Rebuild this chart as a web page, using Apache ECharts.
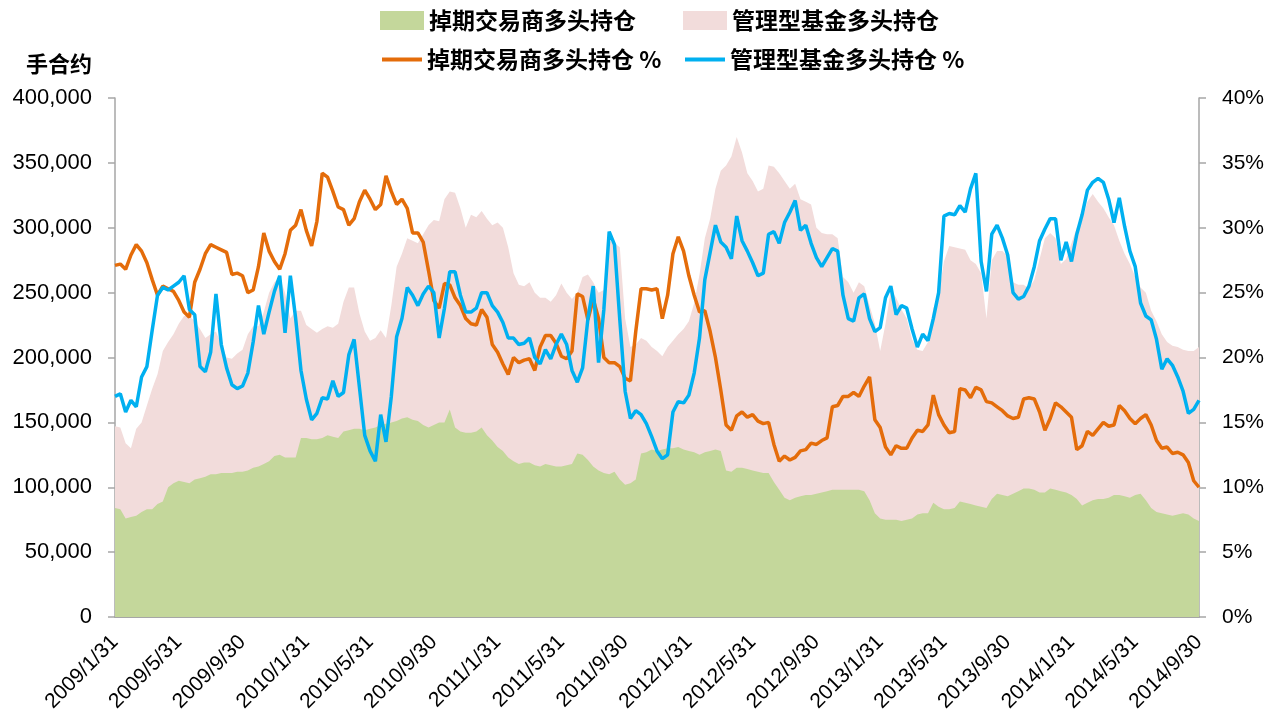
<!DOCTYPE html>
<html>
<head>
<meta charset="utf-8">
<title>掉期交易商与管理型基金多头持仓</title>
<script src="https://cdn.jsdelivr.net/npm/echarts@6/dist/echarts.min.js"></script>
<style>
  html, body { margin: 0; padding: 0; background: #fff; }
  #chart { width: 1278px; height: 719px; }
</style>
</head>
<body>
<div id="chart"></div>
<script>
// x 轴刻度标签，每 4 个月一个；数据约每月 3 个点（索引 0..204）
const tickLabels = ['2009/1/31', '2009/5/31', '2009/9/30', '2010/1/31', '2010/5/31', '2010/9/30',
  '2011/1/31', '2011/5/31', '2011/9/30', '2012/1/31', '2012/5/31', '2012/9/30',
  '2013/1/31', '2013/5/31', '2013/9/30', '2014/1/31', '2014/5/31', '2014/9/30']
const pointsPerTick = 12

// 掉期交易商多头持仓（手合约）
const swapLong = [
  84000, 83000, 76000, 77000, 78000, 81000, 83000, 83000, 87000, 89000, 100000, 103000, 105000, 104000, 103000, 106000, 107000,
  108000, 110000, 110000, 111000, 111000, 111000, 112000, 112000, 113000, 115000, 116000, 118000, 120000, 124000, 125000, 123000, 123000,
  123000, 138000, 138000, 137000, 137000, 138000, 140000, 139000, 138000, 143000, 144000, 145000, 145000, 144000, 145000, 146000, 148000,
  149000, 150000, 151000, 153000, 154000, 152000, 151000, 148000, 146000, 148000, 150000, 150000, 160000, 146000, 143000, 142000, 142000,
  143000, 146000, 140000, 136000, 131000, 128000, 123000, 120000, 118000, 119000, 119000, 117000, 116000, 118000, 117000, 116000, 116000,
  117000, 118000, 126000, 125000, 121000, 116000, 113000, 111000, 110000, 112000, 106000, 102000, 103000, 106000, 126000, 127000, 129000,
  128000, 129000, 130000, 130000, 131000, 129000, 128000, 127000, 125000, 127000, 128000, 129000, 128000, 113000, 112000, 115000, 115000,
  114000, 113000, 112000, 111000, 111000, 104000, 98000, 92000, 90000, 92000, 93000, 94000, 94000, 95000, 96000, 97000, 98000,
  98000, 98000, 98000, 98000, 98000, 97000, 90000, 80000, 76000, 75000, 75000, 75000, 74000, 75000, 76000, 79000, 80000,
  80000, 88000, 85000, 83000, 83000, 84000, 89000, 88000, 87000, 86000, 85000, 84000, 91000, 95000, 94000, 93000, 95000,
  97000, 99000, 99000, 98000, 96000, 96000, 99000, 98000, 97000, 96000, 94000, 91000, 86000, 88000, 90000, 91000, 91000, 92000,
  94000, 94000, 93000, 92000, 94000, 95000, 90000, 84000, 81000, 80000, 79000, 78000, 79000, 80000, 79000, 76000, 74000
]

// 管理型基金多头持仓（图中粉色区域顶部）
const mmLong = [
  147000, 146000, 134000, 130000, 145000, 150000, 163000, 176000, 187000, 205000, 212000, 218000, 226000, 232000, 232000, 228000, 222000,
  215000, 218000, 220000, 210000, 200000, 199000, 203000, 206000, 218000, 224000, 224000, 235000, 250000, 258000, 262000, 250000, 230000,
  236000, 236000, 225000, 222000, 219000, 222000, 224000, 223000, 226000, 243000, 254000, 254000, 234000, 220000, 213000, 215000, 221000,
  215000, 240000, 270000, 280000, 292000, 290000, 288000, 295000, 302000, 306000, 305000, 322000, 328000, 327000, 315000, 300000, 310000,
  308000, 313000, 307000, 302000, 304000, 300000, 285000, 265000, 256000, 255000, 258000, 250000, 246000, 246000, 243000, 248000, 257000,
  250000, 245000, 250000, 262000, 264000, 258000, 250000, 252000, 290000, 288000, 285000, 230000, 208000, 210000, 215000, 213000, 208000,
  205000, 201000, 208000, 213000, 218000, 222000, 228000, 242000, 264000, 292000, 307000, 330000, 344000, 348000, 355000, 370000, 358000,
  342000, 336000, 328000, 330000, 348000, 347000, 342000, 336000, 330000, 334000, 322000, 320000, 318000, 300000, 296000, 295000, 295000,
  292000, 262000, 258000, 250000, 258000, 255000, 240000, 226000, 205000, 226000, 252000, 246000, 237000, 230000, 214000, 206000, 205000,
  212000, 238000, 248000, 274000, 286000, 285000, 284000, 283000, 275000, 272000, 265000, 230000, 275000, 282000, 282000, 278000, 258000,
  256000, 256000, 253000, 260000, 276000, 292000, 296000, 292000, 272000, 276000, 288000, 300000, 306000, 320000, 326000, 320000, 315000, 308000,
  302000, 290000, 280000, 272000, 262000, 254000, 250000, 236000, 228000, 218000, 212000, 209000, 208000, 206000, 205000, 205000, 208000
]

// 掉期交易商多头持仓占比 %
const swapPct = [
  27.1, 27.2, 26.8, 27.9, 28.7, 28.2, 27.3, 26.0, 24.8, 25.5, 25.3, 25.1, 24.4, 23.5, 23.1, 25.8, 26.8,
  28.0, 28.7, 28.5, 28.3, 28.1, 26.4, 26.5, 26.3, 25.0, 25.2, 27.0, 29.6, 28.2, 27.4, 26.8, 28.0, 29.8,
  30.2, 31.4, 29.8, 28.6, 30.5, 34.2, 33.9, 32.8, 31.6, 31.4, 30.2, 30.7, 32.0, 32.9, 32.2, 31.4, 31.8,
  34.0, 32.8, 31.8, 32.2, 31.5, 29.6, 29.6, 28.9, 26.7, 24.4, 23.8, 25.7, 25.6, 24.6, 24.0, 23.0, 22.6,
  22.5, 23.7, 23.1, 21.0, 20.4, 19.5, 18.7, 20.0, 19.6, 19.8, 19.9, 19.0, 20.8, 21.7, 21.7, 21.1, 20.1,
  19.9, 20.5, 24.9, 24.7, 22.9, 24.5, 23.0, 20.0, 19.6, 19.6, 19.3, 18.4, 18.2, 22.0, 25.3, 25.3, 25.2,
  25.3, 23.0, 24.8, 28.0, 29.3, 28.2, 26.3, 24.8, 23.5, 23.6, 22.0, 20.0, 17.5, 14.8, 14.4, 15.5, 15.8,
  15.4, 15.6, 15.1, 14.9, 15.0, 13.3, 12.0, 12.4, 12.1, 12.3, 12.8, 12.9, 13.4, 13.3, 13.6, 13.8, 16.2,
  16.3, 17.0, 17.0, 17.3, 17.0, 17.8, 18.5, 15.2, 14.6, 13.1, 12.5, 13.2, 13.0, 13.0, 13.8, 14.4, 14.3,
  14.8, 17.1, 15.6, 14.8, 14.2, 14.3, 17.6, 17.5, 16.9, 17.7, 17.5, 16.6, 16.5, 16.2, 15.9, 15.5, 15.3,
  15.4, 16.8, 16.9, 16.8, 15.8, 14.4, 15.3, 16.5, 16.2, 15.8, 15.4, 12.9, 13.2, 14.3, 14.0, 14.5, 15.0, 14.7,
  14.8, 16.3, 15.9, 15.3, 14.9, 15.3, 15.6, 14.8, 13.6, 13.0, 13.1, 12.6, 12.7, 12.5, 11.9, 10.5, 10.0
]

// 管理型基金多头持仓占比 %
const mmPct = [
  17.0, 17.2, 15.8, 16.7, 16.2, 18.5, 19.3, 22.1, 24.8, 25.4, 25.2, 25.5, 25.8, 26.3, 23.7, 23.3, 19.3,
  18.9, 20.4, 24.9, 21.0, 19.2, 17.9, 17.6, 17.8, 18.8, 21.2, 24.0, 21.8, 23.5, 25.1, 26.3, 21.9, 26.3,
  23.0, 19.0, 16.8, 15.2, 15.7, 16.9, 16.8, 18.2, 17.0, 17.3, 20.2, 21.4, 17.7, 14.0, 12.8, 12.0, 15.6,
  13.5, 17.0, 21.6, 23.0, 25.4, 24.8, 24.0, 24.9, 25.5, 25.0, 21.5, 23.8, 26.6, 26.6, 24.8, 23.5, 23.5,
  23.8, 25.0, 25.0, 24.0, 23.5, 22.7, 21.5, 21.5, 21.0, 21.1, 21.5, 20.0, 19.5, 20.6, 19.9, 21.0, 21.8,
  21.0, 19.0, 18.1, 19.2, 23.0, 25.5, 19.6, 23.7, 29.7, 28.7, 22.9, 17.4, 15.3, 15.9, 15.6, 14.9, 13.9,
  12.8, 12.2, 12.5, 15.8, 16.6, 16.5, 17.1, 18.8, 21.5, 26.0, 28.1, 30.2, 28.9, 28.5, 27.6, 30.9, 29.0,
  28.2, 27.3, 26.3, 26.5, 29.5, 29.7, 28.8, 30.4, 31.2, 32.1, 29.8, 30.2, 28.8, 27.7, 27.0, 27.7, 28.4,
  28.2, 24.8, 23.0, 22.8, 24.6, 24.9, 23.0, 22.0, 22.3, 24.6, 25.5, 23.3, 24.0, 23.8, 22.2, 20.8, 21.8,
  21.3, 23.0, 25.0, 30.9, 31.1, 31.0, 31.7, 31.2, 33.0, 34.2, 27.4, 25.1, 29.5, 30.2, 29.2, 27.9, 25.0,
  24.5, 24.7, 25.5, 27.0, 29.0, 29.9, 30.7, 30.7, 27.5, 28.9, 27.4, 29.5, 31.0, 32.9, 33.5, 33.8, 33.5, 32.2,
  30.4, 32.3, 30.1, 28.2, 27.0, 24.2, 23.2, 22.9, 21.4, 19.1, 19.9, 19.4, 18.5, 17.4, 15.7, 16.0, 16.7
]

const SWAP = '掉期交易商多头持仓'
const MM = '管理型基金多头持仓'
const SWAP_PCT = '掉期交易商多头持仓 %'
const MM_PCT = '管理型基金多头持仓 %'

const GREEN = '#c4d79b'
const PINK = '#f2dcdb'
const ORANGE = '#e46c0a'
const BLUE = '#00b0f0'
const AXIS_GRAY = '#a6a6a6'

const cjkFont = '"Noto Sans CJK SC", sans-serif'
const numFont = '"Liberation Sans", Arial, sans-serif'

const toPairs = arr => arr.map((v, i) => [i, v])
const thousands = v => String(v).replace(/\B(?=(\d{3})+(?!\d))/g, ',')

const legendText = { fontFamily: cjkFont, fontSize: 23, fontWeight: 'bold', color: '#000' }

// 每个图例单独放一个 legend，好让两行的色块对齐
function legendItem (left, top, name, isArea, color) {
  return {
    left: left,
    top: top,
    padding: 0,
    itemWidth: isArea ? 44 : 40,
    itemHeight: isArea ? 19 : 4,
    selectedMode: false,
    textStyle: legendText,
    data: [{ name: name, icon: 'rect', itemStyle: { color: color, borderWidth: 0 } }]
  }
}

const chart = echarts.init(document.getElementById('chart'), null, { renderer: 'canvas' })

chart.setOption({
  animation: false,
  backgroundColor: '#fff',
  title: {
    text: '手合约',
    left: 26,
    top: 53,
    padding: 0,
    textStyle: { fontFamily: cjkFont, fontSize: 22, fontWeight: 'bold', color: '#000' }
  },
  legend: [
    legendItem(380, 9, SWAP, true, GREEN),
    legendItem(683, 9, MM, true, PINK),
    legendItem(382, 48, SWAP_PCT, false, ORANGE),
    legendItem(685, 48, MM_PCT, false, BLUE)
  ],
  grid: {
    left: 115,
    right: 79,
    top: 98,
    bottom: 102,
    containLabel: false,
    outerBoundsMode: 'none'
  },
  xAxis: {
    type: 'value',
    min: 0,
    max: (tickLabels.length - 1) * pointsPerTick,
    interval: pointsPerTick,
    splitLine: { show: false },
    axisTick: { show: false },
    axisLine: { lineStyle: { color: AXIS_GRAY, width: 2 } },
    axisLabel: {
      rotate: 45,
      margin: 22,
      fontFamily: numFont,
      fontSize: 21,
      color: '#000',
      showMinLabel: true,
      showMaxLabel: true,
      formatter: v => tickLabels[Math.round(v / pointsPerTick)] || ''
    }
  },
  yAxis: [
    {
      type: 'value',
      min: 0,
      max: 400000,
      interval: 50000,
      splitLine: { show: false },
      axisLine: { show: true, lineStyle: { color: AXIS_GRAY, width: 1.5 } },
      axisTick: { show: true, length: 7, lineStyle: { color: AXIS_GRAY, width: 1.5 } },
      axisLabel: {
        margin: 23,
        fontFamily: numFont,
        fontSize: 22,
        color: '#000',
        formatter: v => thousands(v)
      }
    },
    {
      type: 'value',
      min: 0,
      max: 40,
      interval: 5,
      position: 'right',
      splitLine: { show: false },
      axisLine: { show: true, lineStyle: { color: AXIS_GRAY, width: 1.5 } },
      axisTick: { show: true, length: 7, lineStyle: { color: AXIS_GRAY, width: 1.5 } },
      axisLabel: {
        margin: 23,
        fontFamily: numFont,
        fontSize: 21,
        color: '#000',
        formatter: '{value}%'
      }
    }
  ],
  series: [
    {
      name: MM,
      type: 'line',
      data: toPairs(mmLong),
      symbol: 'none',
      itemStyle: { color: PINK },
      lineStyle: { width: 0, color: PINK },
      areaStyle: { color: PINK, opacity: 1 },
      z: 1
    },
    {
      name: SWAP,
      type: 'line',
      data: toPairs(swapLong),
      symbol: 'none',
      itemStyle: { color: GREEN },
      lineStyle: { width: 0, color: GREEN },
      areaStyle: { color: GREEN, opacity: 1 },
      z: 2
    },
    {
      name: SWAP_PCT,
      type: 'line',
      yAxisIndex: 1,
      data: toPairs(swapPct),
      symbol: 'none',
      itemStyle: { color: ORANGE },
      lineStyle: { width: 3.5, color: ORANGE },
      z: 3
    },
    {
      name: MM_PCT,
      type: 'line',
      yAxisIndex: 1,
      data: toPairs(mmPct),
      symbol: 'none',
      itemStyle: { color: BLUE },
      lineStyle: { width: 3.5, color: BLUE },
      z: 4
    }
  ]
})
</script>
</body>
</html>
